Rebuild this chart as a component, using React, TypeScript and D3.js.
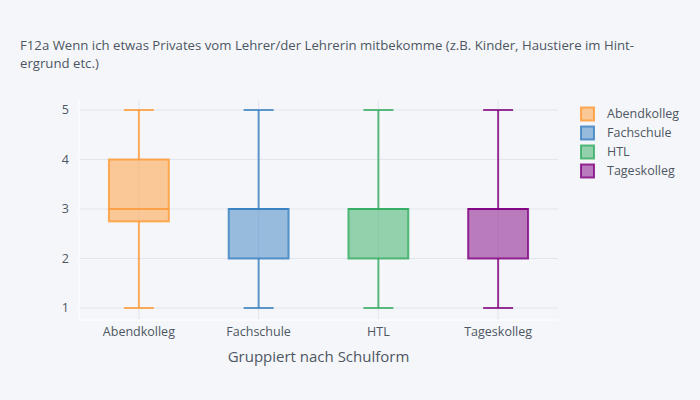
import { useEffect, useRef } from "react";
import * as d3 from "d3";

const categories = ["Abendkolleg", "Fachschule", "HTL", "Tageskolleg"];
const colors = ["#ff9933", "#3780bf", "#32ab60", "#800080"];
const mins = [1, 1, 1, 1];
const q1s = [2.75, 2, 2, 2];
const medians = [3, 3, 3, 3];
const q3s = [4, 3, 3, 3];
const maxs = [5, 5, 5, 5];
const yTicks = [1, 2, 3, 4, 5];

const titleLines = [
    "F12a Wenn ich etwas Privates vom Lehrer/der Lehrerin mitbekomme (z.B. Kinder, Haustiere im Hint-",
    "ergrund etc.)",
];
const xTitle = "Gruppiert nach Schulform";

export default function App() {
    const ref = useRef<SVGSVGElement>(null);

    useEffect(() => {
        if (!ref.current) return;
        const svg = d3.select(ref.current);
        svg.selectAll("*").remove();

        const width = 700;
        const height = 400;
        const bg = "#f5f6f9";
        const textColor = "#4d5663";
        const gridColor = "#e1e5ed";
        const font = "'Open Sans', sans-serif";
        const plot = { left: 79, right: 558, top: 100, bottom: 320 };

        svg.append("rect").attr("width", width).attr("height", height).attr("fill", bg);

        const x = d3.scaleBand().domain(categories).range([plot.left, plot.right]);
        const y = d3.scaleLinear().domain([1, 5]).range([308, 110]);

        // grid
        const g = svg.append("g");
        yTicks.forEach(t => {
            g.append("line")
                .attr("x1", plot.left).attr("x2", plot.right)
                .attr("y1", y(t)).attr("y2", y(t))
                .attr("stroke", gridColor).attr("stroke-width", 1);
        });
        categories.forEach(c => {
            const cx = x(c)! + x.bandwidth() / 2;
            g.append("line")
                .attr("x1", cx).attr("x2", cx)
                .attr("y1", plot.top).attr("y2", plot.bottom)
                .attr("stroke", gridColor).attr("stroke-width", 1);
        });
        // axis lines
        g.append("line").attr("x1", plot.left).attr("x2", plot.right)
            .attr("y1", plot.bottom).attr("y2", plot.bottom).attr("stroke", "#ffffff");
        g.append("line").attr("x1", plot.left).attr("x2", plot.left)
            .attr("y1", plot.top).attr("y2", plot.bottom).attr("stroke", "#ffffff");

        // boxes
        const boxW = x.bandwidth() * 0.5;
        categories.forEach((c, i) => {
            const cx = x(c)! + x.bandwidth() / 2;
            const col = colors[i];
            const b = svg.append("g");
            b.append("line").attr("x1", cx).attr("x2", cx)
                .attr("y1", y(maxs[i])).attr("y2", y(q3s[i]))
                .attr("stroke", col).attr("stroke-width", 2).attr("stroke-opacity", 0.8);
            b.append("line").attr("x1", cx).attr("x2", cx)
                .attr("y1", y(q1s[i])).attr("y2", y(mins[i]))
                .attr("stroke", col).attr("stroke-width", 2).attr("stroke-opacity", 0.8);
            [mins[i], maxs[i]].forEach(v => {
                b.append("line").attr("x1", cx - boxW / 4).attr("x2", cx + boxW / 4)
                    .attr("y1", y(v)).attr("y2", y(v))
                    .attr("stroke", col).attr("stroke-width", 2).attr("stroke-opacity", 0.8);
            });
            b.append("rect")
                .attr("x", cx - boxW / 2).attr("width", boxW)
                .attr("y", y(q3s[i])).attr("height", y(q1s[i]) - y(q3s[i]))
                .attr("fill", col).attr("fill-opacity", 0.5)
                .attr("stroke", col).attr("stroke-width", 2).attr("stroke-opacity", 0.8);
            b.append("line").attr("x1", cx - boxW / 2).attr("x2", cx + boxW / 2)
                .attr("y1", y(medians[i])).attr("y2", y(medians[i]))
                .attr("stroke", col).attr("stroke-width", 2).attr("stroke-opacity", 0.8);
        });

        // tick labels
        yTicks.forEach(t => {
            svg.append("text")
                .attr("x", plot.left - 10).attr("y", y(t)).attr("dy", "0.35em")
                .attr("text-anchor", "end")
                .attr("font-family", font).attr("font-size", 12.5).attr("fill", textColor)
                .text(t);
        });
        categories.forEach(c => {
            svg.append("text")
                .attr("x", x(c)! + x.bandwidth() / 2).attr("y", plot.bottom + 12)
                .attr("dy", "0.35em")
                .attr("text-anchor", "middle")
                .attr("font-family", font).attr("font-size", 12.5).attr("fill", textColor)
                .text(c);
        });

        svg.append("text")
            .attr("x", (plot.left + plot.right) / 2).attr("y", 357).attr("dy", "0.35em")
            .attr("text-anchor", "middle")
            .attr("font-family", font).attr("font-size", 15).attr("fill", textColor)
            .text(xTitle);

        // title, two lines
        titleLines.forEach((line, i) => {
            svg.append("text")
                .attr("x", 20).attr("y", 50 + i * 17.5)
                .attr("font-family", font).attr("font-size", 13.2).attr("fill", textColor)
                .text(line);
        });

        // legend
        categories.forEach((c, i) => {
            const ly = 114 + i * 19;
            svg.append("rect")
                .attr("x", 581).attr("y", ly - 6.5).attr("width", 13).attr("height", 13)
                .attr("fill", colors[i]).attr("fill-opacity", 0.5)
                .attr("stroke", colors[i]).attr("stroke-width", 2).attr("stroke-opacity", 0.8);
            svg.append("text")
                .attr("x", 607).attr("y", ly).attr("dy", "0.35em")
                .attr("font-family", font).attr("font-size", 12.5).attr("fill", textColor)
                .text(c);
        });
    }, []);

    return <svg ref={ref} width={700} height={400} style={{ display: "block", position: "absolute", left: 0, top: 0 }} />;
}
